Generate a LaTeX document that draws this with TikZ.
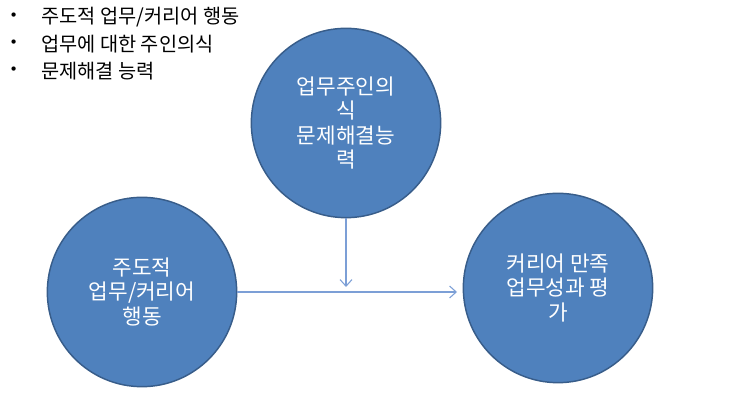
\documentclass[tikz,border=0pt]{standalone}
\usepackage{fontspec}
\setmainfont{Noto Sans CJK KR}
\newfontfamily\dotfont{DejaVu Sans}
\usetikzlibrary{arrows.meta}
\definecolor{circfill}{HTML}{4F81BD}
\definecolor{circline}{HTML}{385D8A}
\definecolor{arrline}{HTML}{7C9FD6}
\tikzset{
  bigcircle/.style={circle, draw=circline, line width=1.1pt, fill=circfill,
    minimum size=142pt, inner sep=0pt, text=white, align=center,
    font=\fontsize{16}{18.3}\selectfont},
  flowarrow/.style={draw=arrline, line width=0.8pt, -{Straight Barb[length=5pt,width=9pt]}},
  bullettext/.style={anchor=west, inner sep=0pt, font=\fontsize{14.8}{18}\selectfont}
}
\begin{document}
\begin{tikzpicture}[x=0.75pt, y=-0.75pt]
\useasboundingbox (0,0) rectangle (743,409);

% Bullets
\foreach \i/\y/\txt in {1/17/{주도적 업무/커리어 행동}, 2/44/{업무에 대한 주인의식}, 3/71/{문제해결 능력}}{
  \node[bullettext] (dot\i) at (9,\y) {\dotfont\fontsize{11}{12}\selectfont •};
  \node[bullettext] (item\i) at (41,\y) {\txt};
}

% Circles
\node[bigcircle] (owner) at (346,123) {업무주인의\\식\\문제해결능\\력};
\node[bigcircle] (proactive) at (142,292) {주도적\\업무/커리어\\행동};
\node[bigcircle] (outcome) at (558,288) {커리어 만족\\업무성과 평\\가};

% Arrows
\coordinate (hend) at (457,292);
\coordinate (vend) at (owner.south |- 0,287);
\draw[flowarrow] (proactive.east |- hend) -- (hend);
\draw[flowarrow] (owner.south) -- (vend);

\end{tikzpicture}
\end{document}
